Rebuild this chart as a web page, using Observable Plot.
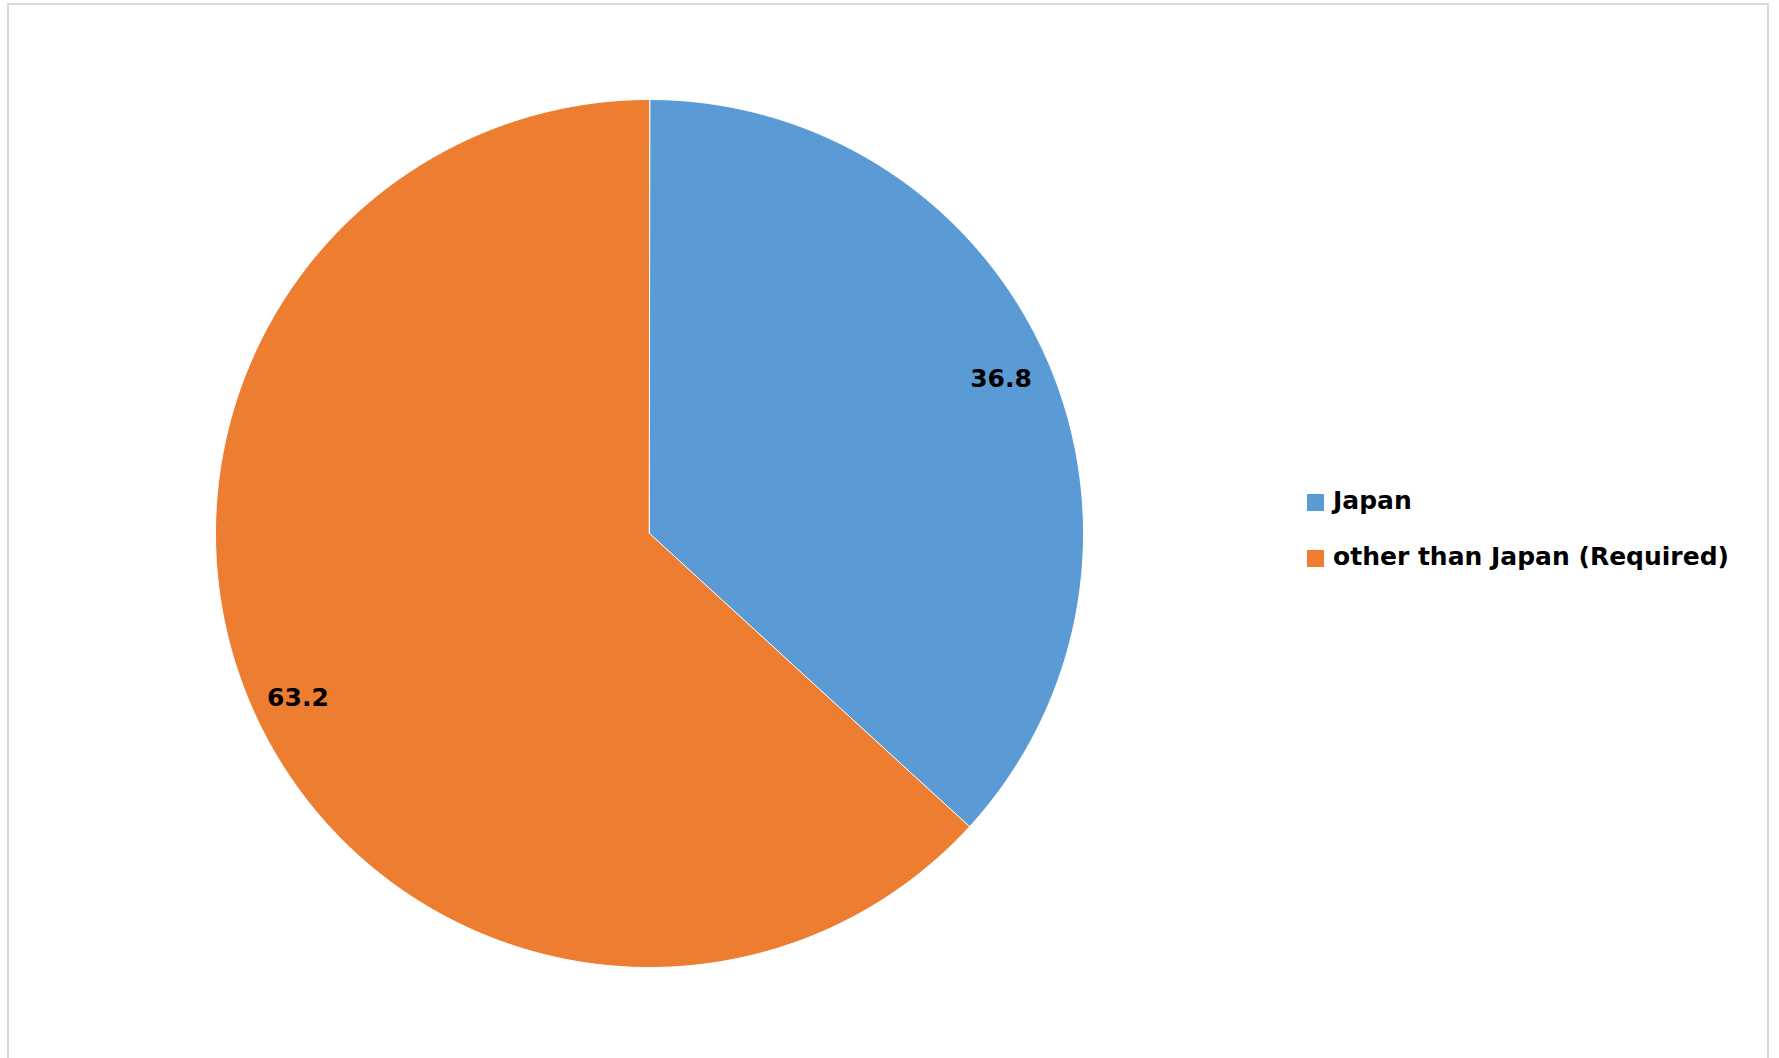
<!DOCTYPE html>
<html>
<head>
<meta charset="utf-8">
<script src="https://cdn.jsdelivr.net/npm/d3@7"></script>
<script src="https://cdn.jsdelivr.net/npm/@observablehq/plot@0.6"></script>
<style>
  html, body { margin: 0; padding: 0; background: #fff; }
  body { width: 1779px; height: 1058px; position: relative; overflow: hidden; font-family: "DejaVu Sans", Verdana, sans-serif; }
  #frame { position: absolute; left: 7px; top: 3px; width: 1762px; height: 1100px; border: 2px solid #d9d9d9; box-sizing: border-box; }
  #chart { position: absolute; left: 0; top: 0; }
  #legend { position: absolute; left: 1307px; top: 472px; font-weight: bold; font-size: 25px; color: #000; }
  .item { display: flex; align-items: center; height: 56px; }
  .sw { width: 17px; height: 17px; margin-right: 9px; margin-top: 4px; }
</style>
</head>
<body>
<div id="frame"></div>
<div id="chart"></div>
<div id="legend"></div>
<script>
const categories = ["Japan", "other than Japan (Required)"];
const values = [36.8, 63.2];
const colors = ["#5B9BD5", "#ED7D31"];

const pie = d3.pie().sort(null).value(d => d.value)(categories.map((c, i) => ({category: c, value: values[i]})));

// polygon outline of each slice (center + arc), in unit-circle coordinates
const slicePts = [];
pie.forEach(p => {
  slicePts.push({category: p.data.category, x: 0, y: 0});
  const steps = Math.max(2, Math.ceil((p.endAngle - p.startAngle) / 0.005));
  for (let k = 0; k <= steps; k++) {
    const a = p.startAngle + (p.endAngle - p.startAngle) * k / steps;
    slicePts.push({category: p.data.category, x: Math.sin(a), y: Math.cos(a)});
  }
});
const labels = pie.map((p, i) => {
  const a = (p.startAngle + p.endAngle) / 2;
  return {i, text: p.data.value.toFixed(1), x: 0.885 * Math.sin(a), y: 0.885 * Math.cos(a)};
});

const cx = 649, cy = 533, r = 434;
const textStyle = {x: "x", y: "y", text: "text", fontSize: 25, fontWeight: "bold", fill: "#000", fontFamily: "DejaVu Sans, Verdana, sans-serif"};
const chart = Plot.plot({
  width: 1779,
  height: 1058,
  marginTop: 0, marginRight: 0, marginBottom: 0, marginLeft: 0,
  x: {domain: [-1, 1], range: [cx - r, cx + r], axis: null},
  y: {domain: [-1, 1], range: [cy + r, cy - r], axis: null},
  color: {domain: categories, range: colors},
  style: {background: "transparent"},
  marks: [
    Plot.line(slicePts, {x: "x", y: "y", z: "category", fill: "category", stroke: "#ffffff", strokeWidth: 1, curve: "linear-closed"}),
    Plot.text(labels.filter(d => d.i === 0), {...textStyle}),
    Plot.text(labels.filter(d => d.i === 1), {...textStyle, dy: 10})
  ]
});
document.getElementById("chart").appendChild(chart);

const legend = document.getElementById("legend");
categories.forEach((c, i) => {
  const row = document.createElement("div");
  row.className = "item";
  const sw = document.createElement("div");
  sw.className = "sw";
  sw.style.background = colors[i];
  const t = document.createElement("span");
  t.textContent = c;
  row.appendChild(sw); row.appendChild(t);
  legend.appendChild(row);
});
</script>
</body>
</html>
